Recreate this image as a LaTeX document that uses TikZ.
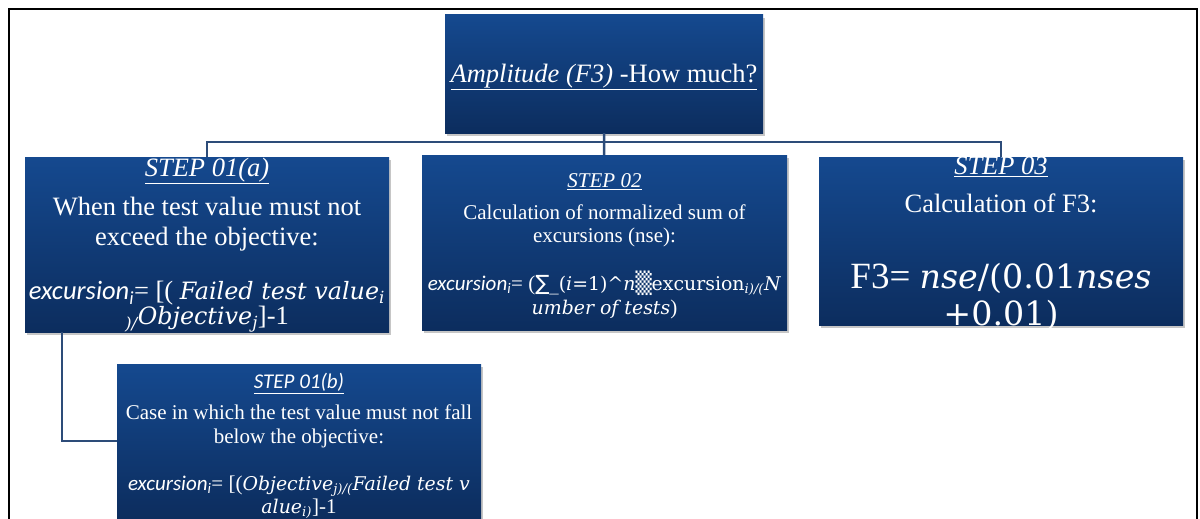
\documentclass[tikz,border=0pt]{standalone}
\usepackage{fontspec}
\setmainfont{Liberation Serif}
\newfontfamily\calibri{Carlito}
\newfontfamily\cambria[Scale=0.9]{DejaVu Serif}
\newfontfamily\symbfont{DejaVu Sans}
\usetikzlibrary{shadows}

\definecolor{boxtop}{HTML}{15498F}
\definecolor{boxbottom}{HTML}{0C2D5E}
\definecolor{linkblue}{HTML}{2D4C79}

\newcommand{\excur}{{\calibri\itshape excursion\textsubscript{i}}}

\begin{document}
\begin{tikzpicture}[x=1pt,y=-1pt]
	\useasboundingbox (0,0) rectangle (1200,519);
	\draw[line width=2.5pt] (9,9) rectangle (1197,560);

	\begin{scope}[every node/.style={rectangle,inner sep=0pt,
				  top color=boxtop,bottom color=boxbottom,
				  drop shadow={opacity=0.45,shadow xshift=2pt,shadow yshift=-3pt}}]
		\node[minimum width=318pt,minimum height=118pt] (top) at (604,74) {};
		\node[minimum width=364pt,minimum height=175pt] (s1a) at (207,244.5) {};
		\node[minimum width=365pt,minimum height=175pt] (s2) at (604.5,242.5) {};
		\node[minimum width=364pt,minimum height=168pt] (s3) at (1001,241) {};
		\node[minimum width=364pt,minimum height=154pt] (s1b) at (299,441) {};
	\end{scope}

	\begin{scope}[every node/.style={text=white,align=center,inner sep=0pt}]
		\node[font=\fontsize{26.5}{30}\selectfont] (top-t) at (604,77)
			{\underline{\textit{Amplitude (F3)} -How much?}};

		\node[font=\fontsize{26.5}{30}\selectfont] (s1a-t) at (207,204.5)
			{\underline{\textit{STEP 01(a)}}\\[9pt]
			 When the test value must not\\ exceed the objective:};
		\node[font=\fontsize{26.5}{25}\selectfont] (s1a-f) at (207,307)
			{\excur= [( {\cambria\itshape Failed test value\textsubscript{i}}\\
			 {\cambria\itshape\textsubscript{)/}Objective\textsubscript{j}}]-1};

		\node[font=\fontsize{21}{23}\selectfont] (s2-t) at (604.5,210.5)
			{\underline{\textit{STEP 02}}\\[9pt]
			 Calculation of normalized sum of\\ excursions (nse):};
		\node[font=\fontsize{21}{24}\selectfont] (s2-f) at (604.5,294.5)
			{\excur= ({\symbfont∑}{\cambria\_(\textit{i}=1)\textasciicircum\textit{n}}{\symbfont ▒}{\cambria excursion\textsubscript{\itshape i)/(}\textit{N}}\\
			 {\cambria\itshape umber of tests})};

		\node[font=\fontsize{26.5}{30}\selectfont] (s3-t) at (1001,184.5)
			{\underline{\textit{STEP 03}}\\[8pt] Calculation of F3:};
		\node[font=\fontsize{37}{37}\selectfont] (s3-f) at (1001,297)
			{F3=~{\cambria\textit{nse}/(0.01\textit{nses}}\\ {\cambria +0.01)}};

		\node[font=\fontsize{21}{24}\selectfont] (s1b-t) at (299,410.5)
			{\underline{\calibri\itshape STEP 01(b)}\\[7pt]
			 Case in which the test value must not fall\\ below the objective:};
		\node[font=\fontsize{21}{23}\selectfont] (s1b-f) at (299,497)
			{\excur= [({\cambria\itshape Objective\textsubscript{j)/(}Failed test v}\\
			 {\cambria\itshape alue\textsubscript{i)}}]-1};
	\end{scope}

	\begin{scope}[linkblue,line width=2.5pt]
		\coordinate (fork) at (604,142);
		\coordinate (s1a-out) at (62,332);
		\path [-] (top) edge (s2);
		\draw (fork) -| (s1a.north);
		\draw (fork) -| (s3.north);
		\draw (s1a-out) |- (s1b.west);
	\end{scope}
\end{tikzpicture}
\end{document}
